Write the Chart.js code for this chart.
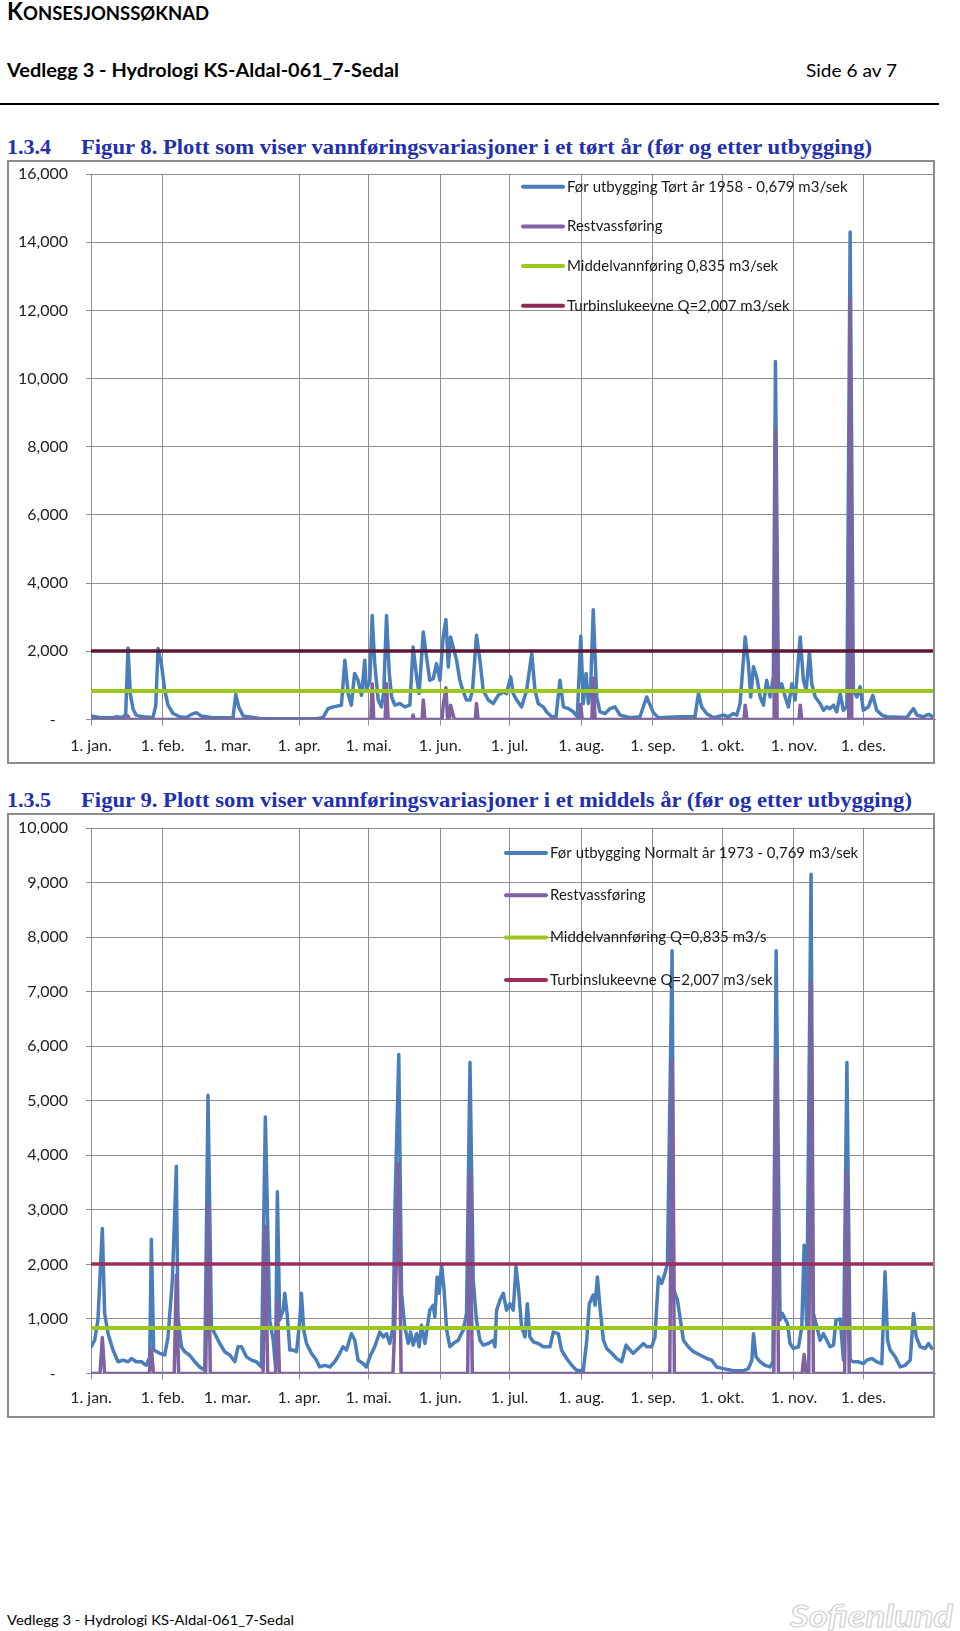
<!DOCTYPE html>
<html lang="no">
<head>
<meta charset="utf-8">
<title>Vedlegg 3 - Hydrologi KS-Aldal-061_7-Sedal</title>
<script src="https://cdn.jsdelivr.net/npm/chart.js@4.4.1/dist/chart.umd.min.js"></script>
<style>
  html, body { margin: 0; padding: 0; background: #fff; }
  body { position: relative; width: 960px; height: 1631px; overflow: hidden; font-family: Lato, sans-serif; color: #000; }
  .t { position: absolute; white-space: nowrap; line-height: 1; transform-origin: 0 0; }
  .head1 { left: 7px; top: -1px; font-weight: 700; font-size: 19px; }
  .head1 .big { font-size: 24px; }
  .head2 { left: 7px; top: 61px; font-weight: 700; font-size: 18px; }
  .page { left: 806px; top: 61px; font-size: 18px; }
  .rule { position: absolute; left: 0; top: 103px; width: 939px; height: 2px; background: #000; }
  .fig { font-family: 'Liberation Serif', serif; font-weight: 700; font-size: 22px; color: #2230b0; }
  .frame { position: absolute; left: 7px; width: 928px; border: 2px solid #8c8c8c; box-sizing: border-box; pointer-events: none; }
  canvas { position: absolute; left: 0; }
  .foot { left: 7px; top: 1613px; font-size: 14px; }
  .brand { left: 790px; top: 1600px; font-size: 30px; font-weight: 700; font-style: italic; color: #fff; -webkit-text-stroke: 1px #cdcdcd; }
</style>
</head>
<body>

<div class="t head1" data-w="202"><span class="big">K</span>ONSESJONSSØKNAD</div>
<div class="t head2" data-w="392">Vedlegg 3 - Hydrologi KS-Aldal-061_7-Sedal</div>
<div class="t page" data-w="91">Side 6 av 7</div>
<div class="rule"></div>

<div class="t fig" style="left:7px; top:136px" data-w="44">1.3.4</div>
<div class="t fig" style="left:81px; top:136px" data-w="791">Figur 8. Plott som viser vannføringsvariasjoner i et tørt år (før og etter utbygging)</div>
<canvas id="dryChart" width="940" height="604" style="top:160px"></canvas>
<div class="frame" style="top:160px; height:604px"></div>

<div class="t fig" style="left:7px; top:789px" data-w="44">1.3.5</div>
<div class="t fig" style="left:81px; top:789px" data-w="831">Figur 9. Plott som viser vannføringsvariasjoner i et middels år (før og etter utbygging)</div>
<canvas id="normalChart" width="940" height="605" style="top:813px"></canvas>
<div class="frame" style="top:813px; height:605px"></div>

<div class="t foot" data-w="287">Vedlegg 3 - Hydrologi KS-Aldal-061_7-Sedal</div>
<div class="t brand" data-w="163">Sofienlund</div>

<script>
// month axis (day of year)
const monthStart = [0, 31, 59, 90, 120, 151, 181, 212, 243, 273, 304, 334];
const monthLabels = ['1. jan.', '1. feb.', '1. mar.', '1. apr.', '1. mai.', '1. jun.', '1. jul.', '1. aug.', '1. sep.', '1. okt.', '1. nov.', '1. des.'];
const yearEnds = [0, 365];

const meanFlow = 835;
const turbineCap = 2007;

// Figur 8 - tørt år 1958 (før utbygging)
const dryDays = [0,3.8,9.5,11,13.8,15,16,17,18.2,19.6,22.5,26.8,28,29,30.4,31.9,33.3,35.5,38.4,41.3,
  43.4,45.6,47.7,52.8,61.4,62.6,64,65.8,73,97.5,100.4,102.5,104.7,108.3,109.8,111.2,112.6,114,115.5,117,
  118.4,119.1,120.6,121.6,122.7,124.2,125.6,126.6,127.8,129,130,131.4,133.6,135.7,137.9,139.3,140.8,141.9,143.7,145.1,
  146.5,148,149.4,150.9,152.3,153.5,154.5,155.5,156.6,158.1,159.5,161,162.4,163.9,165,166.7,
  168.2,169.6,171.8,174,176.1,178.3,179.7,181.5,182.6,184.1,186.2,188.4,190.6,192,193.4,195.6,197,199.2,201.1,202.8,
  204.3,206.4,208.6,210.3,211.8,212.9,214.1,215.1,216.1,217.2,218.7,220.1,222.3,224.5,226.6,228.8,233.1,237.4,240.3,241.8,
  243.2,245.4,254.7,261.2,262.7,264.1,266.3,269.2,273.5,275.7,277.8,279.3,280.7,282.9,284.3,285.3,286.5,287.9,289.4,290.8,
  292.2,293.7,295.1,296,297.3,298.7,300.2,301.6,303.1,304.5,306.7,308.1,309.3,310.7,311.7,313.2,315.3,316.8,318.2,319.6,
  321.1,322.5,324,325.4,326.9,328.3,329.7,331.2,332.6,334,336.2,338.1,339.8,342,344.2,352.8,354.3,355.7,357.2,360,
  362.2,363.6,364.6];
const dryFlow = [100,60,50,80,60,150,2100,760,300,120,80,60,400,2080,1640,860,420,175,80,60,
  150,200,100,50,50,730,350,100,30,20,60,320,370,420,1740,760,420,1350,1150,710,
  1740,860,1150,3050,1640,570,370,800,3050,1350,660,420,470,370,420,2130,1250,760,2570,1830,
  1150,1200,1640,1150,2420,2930,1540,2420,2130,1740,1150,810,570,570,860,2470,
  1740,860,570,470,710,810,760,1250,760,570,370,860,1930,860,470,370,225,80,80,1150,
  370,320,225,80,2440,470,1350,470,1000,3220,660,225,175,320,370,130,50,80,660,420,
  200,50,80,80,760,370,170,50,130,80,175,130,470,2420,1640,660,1550,1250,660,420,
  1150,660,1250,10500,860,1050,660,370,1050,570,2420,1150,860,1980,1050,660,470,270,370,320,
  420,225,760,270,370,14300,860,660,960,270,370,710,270,130,80,60,200,320,130,80,
  150,100,80];
const dryRestDays = [0,15.4,16,16.6,121,121.6,122.3,127.2,127.8,128.5,138.8,139.3,139.8,143.2,143.7,144.4,
  151.8,152.3,153.5,154.2,155,155.5,156.6,157.2,166.2,166.7,167.4,211.3,211.8,212.4,216.6,217.2,218,
  282.4,282.9,283.7,295.4,296,296.7,306.2,306.7,307.4,327.7,328.3,329,365];
const dryRest = [0,0,100,0,0,1050,0,0,1050,0,0,130,0,0,570,0,
  0,420,930,0,0,420,130,0,0,470,0,0,440,0,0,1220,0,
  0,420,0,0,8500,0,0,420,0,0,12300,0,0];

// Figur 9 - normalt år 1973 (før utbygging)
const normalDays = [0,1.6,3,4.9,5.9,7.4,9.5,11.7,13.8,16,17.5,19.6,21.8,23.9,25.4,26.1,27.1,29.7,31.9,33.3,
  35.2,36.9,37.6,39.1,40.5,42.7,44.9,47,49.2,50.6,52.1,53.5,55.7,57.8,60,62.2,63.6,65.1,67.2,69.4,
  71.5,73.7,75.4,77.3,78.8,79.8,80.6,81.6,83.1,83.8,84.8,86,87.4,88.9,90.3,91,92,93.2,95.3,97.5,
  98.9,101.1,103.3,105.4,107.6,109,110.5,112.6,114.1,115.5,117.7,119.1,120.6,122.7,124.9,126.4,127.8,129.2,130.7,131.4,
  133.1,134.3,135.7,137.2,138.2,139.3,140.8,141.9,142.9,144.4,145.5,146.5,148,148.7,149.7,150.6,151.6,152.7,153.8,155.2,
  156.7,158.8,161,162.4,163.9,165.3,166.7,
  168.2,169.6,171.8,174,174.7,175.4,176.9,178.3,179.7,181.2,182.6,183.8,184.8,186.2,187.7,188.7,189.8,191.3,193.4,195.6,
  198.5,199.9,202.1,203.5,205.7,207.9,210,212.9,214.4,215.5,217.2,218,219,220.1,221.6,223,225.2,227.3,229.5,231.4,
  233.1,234.5,236.7,238.9,240.3,242.5,243.9,245.4,246.8,248.2,249.3,251.3,252.1,253.6,254.7,256.2,258.3,260.5,263.4,266.3,
  268.4,270.6,273.5,277.8,282.1,284.3,285.8,286.5,287.6,289.4,291.5,293.7,294.9,296.3,298,299,300.2,301.2,302.3,303.8,
  306,307.4,308.4,309.5,311.4,312.4,313.9,315.3,316.8,318.2,319.6,321.1,322.2,324,325.4,326.9,328.3,329.7,331.9,334.1,
  335.5,337.7,339.8,342,343.4,344.5,345.6,347.8,350,352.1,354.3,355.7,356.9,358.6,360.8,362.2,363.6,364.6];
const normalFlow = [490,610,980,2660,1100,730,430,215,245,215,275,215,215,150,300,2460,430,370,340,670,
  1710,3800,1040,490,400,335,215,120,60,5100,860,730,550,400,340,215,490,490,305,245,
  215,120,4700,980,610,120,3330,980,1160,1470,1100,430,430,400,980,1470,800,550,370,245,
  120,150,120,215,370,490,430,730,610,245,180,120,305,490,760,670,730,550,860,2940,
  5850,1470,860,550,760,520,730,490,890,550,860,1160,1250,1040,1770,1470,1990,1530,800,490,
  550,610,800,1100,5700,1710,980,
  610,520,550,610,490,1160,1350,1470,1160,1280,1160,1960,1590,860,670,1280,670,580,550,490,
  490,760,730,430,275,150,60,50,610,1280,1440,1250,1770,1220,610,460,370,275,215,520,
  430,370,460,550,490,490,670,1770,1650,1835,2020,7750,1530,1350,1040,610,490,400,340,275,
  245,120,90,50,50,90,245,730,305,215,150,120,215,7750,980,1100,1000,920,550,460,
  490,860,2350,860,9150,1100,860,610,730,610,490,520,980,1000,245,5700,245,215,215,180,
  245,275,215,180,1865,610,430,305,120,150,245,1100,670,490,460,550,460,460];
const normalRestDays = [0,3.9,4.9,5.9,25.2,26.1,27,36,36.9,37.9,49.6,50.6,51.6,74.4,75.4,76.4,79.8,80.6,81.5,
  130.6,131.4,133.1,134.1,162.9,163.9,164.9,250.3,251.3,252.3,295.3,296.3,297.3,307.5,308.4,309.3,
  310.4,311.4,312.4,325.9,326.9,327.9,365];
const normalRest = [0,0,660,0,0,460,0,0,1800,0,0,3100,0,0,2700,0,0,1330,0,
  0,940,3850,0,0,3700,0,0,5750,0,0,5750,0,0,350,0,
  0,7150,0,0,3700,0,0];

const dryLabels = ['Før utbygging Tørt år 1958 - 0,679 m3/sek', 'Restvassføring', 'Middelvannføring 0,835 m3/sek', 'Turbinslukeevne Q=2,007 m3/sek'];
const normalLabels = ['Før utbygging Normalt år 1973 - 0,769 m3/sek', 'Restvassføring', 'Middelvannføring Q=0,835 m3/s', 'Turbinslukeevne Q=2,007 m3/sek'];

const blue = '#4a7ebb';
const purple = '#7e62a1';
const green = '#9cc81e';
const gridColor = '#8e8e8e';

function pairs(xs, ys) {
  return xs.map((x, i) => ({ x: x, y: ys[i] }));
}

// legend drawn inside the plot, no background (gridlines show through)
const insideLegend = {
  id: 'insideLegend',
  afterDraw(chart, args, opts) {
    const ctx = chart.ctx;
    ctx.save();
    ctx.font = '15px Lato';
    ctx.textBaseline = 'middle';
    chart.data.datasets.forEach((ds, i) => {
      const y = opts.top + i * opts.gap;
      ctx.strokeStyle = opts.colors[i];
      ctx.lineWidth = 4;
      ctx.lineCap = 'round';
      ctx.beginPath();
      ctx.moveTo(opts.left, y);
      ctx.lineTo(opts.left + 40, y);
      ctx.stroke();
      ctx.fillStyle = '#1a1a1a';
      ctx.fillText(ds.label, opts.left + 44, y);
    });
    ctx.restore();
  }
};

// keep the plot area where it is: no extra room for half tick labels
function noScalePadding(s) {
  s.paddingTop = 0;
  s.paddingBottom = 0;
  s.paddingLeft = 0;
  s.paddingRight = 0;
}

function flowChart(id, o) {
  return new Chart(document.getElementById(id), {
    type: 'line',
    data: {
      datasets: [
        { label: o.labels[0], data: pairs(o.days, o.flow), borderColor: blue, borderWidth: 3.5, order: 4 },
        { label: o.labels[1], data: pairs(o.restDays, o.rest), borderColor: purple, borderWidth: 3.5, order: 3 },
        { label: o.labels[2], data: pairs(yearEnds, [meanFlow, meanFlow]), borderColor: green, borderWidth: 4, order: 2 },
        { label: o.labels[3], data: pairs(yearEnds, [turbineCap, turbineCap]), borderColor: o.maroon, borderWidth: 3.5, order: 1 }
      ]
    },
    plugins: [insideLegend],
    options: {
      responsive: false,
      animation: false,
      devicePixelRatio: 1,
      events: [],
      layout: { padding: { top: o.padTop, right: 5, left: 0, bottom: 0 } },
      elements: {
        point: { radius: 0 },
        line: { tension: 0, fill: false, borderJoinStyle: 'round', borderCapStyle: 'round' }
      },
      plugins: {
        legend: { display: false },
        tooltip: { enabled: false },
        insideLegend: { left: o.legendLeft, top: o.legendTop, gap: o.legendGap, colors: [blue, purple, green, o.legendMaroon] }
      },
      scales: {
        x: {
          type: 'linear',
          min: 0,
          max: 365,
          afterBuildTicks: s => { s.ticks = monthStart.map(v => ({ value: v })); },
          afterFit: s => { s.height = 44.5; noScalePadding(s); },
          ticks: {
            callback: (v, i) => monthLabels[i],
            autoSkip: false,
            maxRotation: 0,
            padding: o.xPad,
            color: '#222',
            font: { size: 16 }
          },
          grid: {
            // Excel left out the 1. mar. gridline
            color: c => (c.tick && c.tick.value === 59) ? 'rgba(0,0,0,0)' : gridColor,
            tickLength: 6
          },
          border: { color: gridColor }
        },
        y: {
          min: 0,
          max: o.max,
          afterFit: s => { s.width = 91; noScalePadding(s); },
          ticks: {
            stepSize: o.step,
            callback: v => v === 0 ? '-   ' : v.toLocaleString('en-US'),
            padding: 18,
            color: '#222',
            font: { size: 16 }
          },
          grid: { color: gridColor, tickLength: 5 },
          border: { color: gridColor }
        }
      }
    }
  });
}

function fitText() {
  document.querySelectorAll('[data-w]').forEach(el => {
    const w = el.getBoundingClientRect().width;
    if (w > 0) el.style.transform = 'scaleX(' + (+el.dataset.w / w) + ')';
  });
}

function draw() {
  Chart.defaults.font.family = 'Lato, sans-serif';
  fitText();
  flowChart('dryChart', {
    days: dryDays, flow: dryFlow, restDays: dryRestDays, rest: dryRest, labels: dryLabels,
    max: 16000, step: 2000, padTop: 14, xPad: 11,
    maroon: '#5a1836', legendMaroon: '#8a2a55',
    legendLeft: 523, legendTop: 26.7, legendGap: 39.7
  });
  flowChart('normalChart', {
    days: normalDays, flow: normalFlow, restDays: normalRestDays, rest: normalRest, labels: normalLabels,
    max: 10000, step: 1000, padTop: 15, xPad: 9,
    maroon: '#9c2d5f', legendMaroon: '#9c2d5f',
    legendLeft: 506, legendTop: 40, legendGap: 42.3
  });
}

Promise.all([
  document.fonts.load('16px Lato'),
  document.fonts.load('700 18px Lato'),
  document.fonts.load('italic 700 30px Lato'),
  document.fonts.load('700 22px "Liberation Serif"')
]).then(draw, draw);
</script>
</body>
</html>
